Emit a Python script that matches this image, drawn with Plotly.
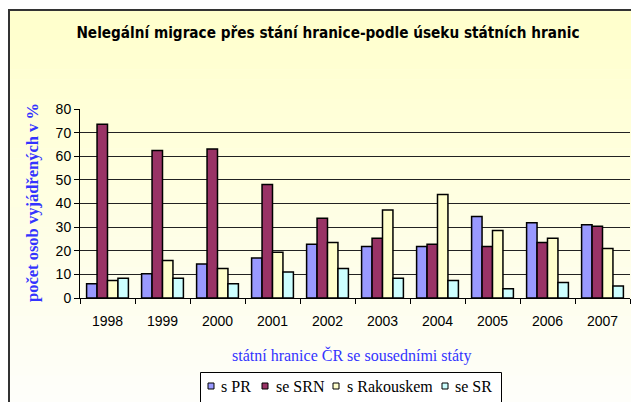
import plotly.graph_objects as go

years = ["1998", "1999", "2000", "2001", "2002", "2003", "2004", "2005", "2006", "2007"]
s_pr = [6.0, 10.3, 14.4, 16.9, 22.8, 21.8, 21.8, 34.5, 31.8, 31.0]
se_srn = [73.5, 62.4, 63.1, 48.0, 33.8, 25.3, 22.8, 21.8, 23.5, 30.4]
s_rak = [7.4, 15.9, 12.5, 19.4, 23.5, 37.2, 43.8, 28.6, 25.3, 21.0]
se_sr = [8.4, 8.4, 6.0, 11.0, 12.5, 8.4, 7.4, 3.9, 6.6, 5.1]

series_names = ["s PR", "se SRN", "s Rakouskem", "se SR"]
series_values = [s_pr, se_srn, s_rak, se_sr]
series_colors = ["#9999FF", "#993366", "#FFFFCC", "#CCFFFF"]

fig = go.Figure()
for name, vals, col in zip(series_names, series_values, series_colors):
    fig.add_trace(go.Bar(
        x=years, y=vals, name=name,
        marker=dict(color=col, line=dict(color="black", width=1.5)),
    ))

# page body has an 8px margin; work in reference (screen) pixel coordinates
OFF = 8
W, H = 639 - OFF, 402 - OFF
L, R, T, B = 80, 630, 109, 298  # plot area in screen pixels


def px(x):
    return (x - L) / (R - L)


def py(y):
    return (B - y) / (B - T)


shapes = []
# gradient background bands
n = 40
top_c = (255, 255, 204)
bot_c = (254, 254, 250)
y0, y1 = 10, 405
for i in range(n):
    ya = y0 + (y1 - y0) * i / n
    yb = y0 + (y1 - y0) * (i + 1) / n
    t = i / (n - 1)
    c = tuple(round(top_c[k] + (bot_c[k] - top_c[k]) * t) for k in range(3))
    shapes.append(dict(type="rect", xref="paper", yref="paper",
                       x0=px(9), x1=px(650), y0=py(yb + 0.5), y1=py(ya),
                       fillcolor="rgb(%d,%d,%d)" % c, line=dict(width=0),
                       layer="below"))
# outer border
shapes.append(dict(type="rect", xref="paper", yref="paper",
                   x0=px(9), x1=px(650), y0=py(420), y1=py(10),
                   line=dict(color="#333333", width=2), fillcolor="rgba(0,0,0,0)",
                   layer="below"))

annotations = [
    dict(text="státní hranice ČR se sousedními státy", xref="paper", yref="paper",
         x=px(352), y=py(355), showarrow=False, xanchor="center", yanchor="middle",
         font=dict(family="Liberation Serif", size=16, color="#3333FF")),
    dict(text="<b>počet osob vyjádřených v %</b>", xref="paper", yref="paper",
         x=px(32), y=py(203), showarrow=False, textangle=-90,
         xanchor="center", yanchor="middle",
         font=dict(family="Liberation Serif", size=16.5, color="#3333FF")),
]

# custom legend
shapes.append(dict(type="rect", xref="paper", yref="paper",
                   x0=px(200.5), x1=px(501.5), y0=py(420), y1=py(372.5),
                   line=dict(color="black", width=1), fillcolor="white", layer="above"))
sq_centers = [211, 265, 336, 445]
txt_starts = [219, 274, 345, 453]
ly = 386
for name, col, sc, ts in zip(series_names, series_colors, sq_centers, txt_starts):
    shapes.append(dict(type="rect", xref="paper", yref="paper",
                       x0=px(sc - 3), x1=px(sc + 3), y0=py(ly + 3), y1=py(ly - 3),
                       line=dict(color="black", width=1), fillcolor=col, layer="above"))
    annotations.append(dict(text=name, xref="paper", yref="paper", x=px(ts), y=py(ly),
                            showarrow=False, xanchor="left", yanchor="middle",
                            font=dict(family="Liberation Serif", size=16, color="black")))

fig.update_layout(
    width=W, height=H,
    margin=dict(l=L - OFF, r=639 - R, t=T - OFF, b=402 - B, autoexpand=False),
    paper_bgcolor="white",
    plot_bgcolor="rgba(0,0,0,0)",
    barmode="group", bargap=0.24, bargroupgap=0,
    shapes=shapes,
    showlegend=False,
    title=dict(text="<b>Nelegální migrace přes stání hranice-podle úseku státních hranic</b>",
               x=px(328), xref="paper", xanchor="center",
               y=1 - (33 - OFF) / H, yref="container", yanchor="middle",
               font=dict(family="DejaVu Sans Condensed, DejaVu Sans", size=15.2, color="black")),
    xaxis=dict(showline=True, linecolor="black", linewidth=1,
               ticks="outside", tickson="boundaries", ticklen=5, tickcolor="black",
               ticklabelstandoff=10,
               tickfont=dict(family="Liberation Sans", size=14, color="black"),
               showgrid=False),
    yaxis=dict(range=[0, 80], dtick=10, showline=True, linecolor="black", linewidth=1,
               ticks="outside", ticklen=5, tickcolor="black",
               tickfont=dict(family="Liberation Sans", size=14, color="black"),
               showgrid=True, gridcolor="#222222", gridwidth=1, zeroline=False),
    annotations=annotations,
)

fig.write_html("out.html")
